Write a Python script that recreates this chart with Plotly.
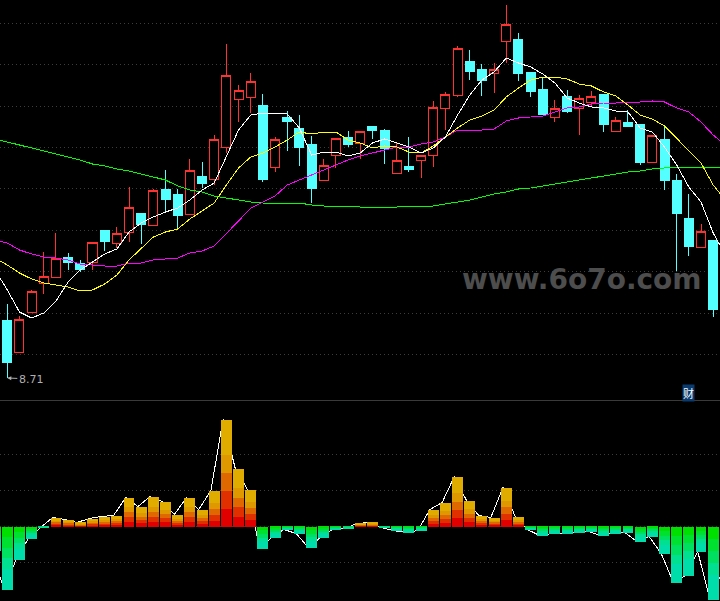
import plotly.graph_objects as go

# Candles: index 0..58
opens = [9.29,8.97,9.37,9.66,9.72,9.92,9.86,9.87,10.19,10.06,10.17,10.36,10.24,10.60,10.55,10.35,10.73,10.70,11.02,11.50,11.52,11.44,10.82,11.32,11.21,11.05,10.69,10.94,11.12,11.06,11.23,11.19,10.76,10.83,10.89,10.94,11.41,11.54,11.88,11.80,11.76,12.08,12.10,11.77,11.60,11.32,11.53,11.41,11.47,11.55,11.18,11.27,11.25,10.87,11.10,10.69,10.31,10.02,10.09]
closes = [8.87,9.30,9.58,9.73,9.91,9.87,9.80,10.07,10.08,10.16,10.42,10.25,10.59,10.50,10.34,10.79,10.66,11.10,11.74,11.59,11.68,10.70,11.10,11.28,11.02,10.61,10.84,11.11,11.05,11.18,11.19,11.01,10.89,10.80,10.94,11.42,11.55,12.01,11.78,11.69,11.80,12.25,11.76,11.58,11.35,11.41,11.38,11.51,11.53,11.25,11.29,11.23,10.87,11.14,10.69,10.36,10.03,10.18,9.40]
highs = [9.45,9.33,9.59,9.97,10.16,9.96,9.89,10.07,10.19,10.22,10.62,10.36,10.60,10.79,10.60,10.90,10.87,11.14,12.05,11.64,11.76,11.55,11.12,11.38,11.34,11.13,10.90,11.11,11.18,11.18,11.23,11.20,11.07,11.12,10.94,11.48,11.57,12.03,11.99,11.85,11.86,12.44,12.16,11.77,11.72,11.49,11.59,11.54,11.58,11.55,11.32,11.39,11.25,11.14,11.24,10.75,10.55,10.25,10.09]
lows = [8.71,8.97,9.37,9.55,9.72,9.79,9.77,9.79,9.98,10.01,10.07,10.05,10.24,10.37,10.21,10.35,10.61,10.64,10.96,11.27,11.36,10.67,10.77,10.98,10.83,10.46,10.68,10.81,11.02,10.90,11.10,10.85,10.76,10.77,10.71,10.82,11.19,11.52,11.69,11.53,11.56,11.86,11.68,11.52,11.34,11.27,11.36,11.14,11.43,11.17,11.17,11.23,10.84,10.87,10.59,9.78,9.93,10.02,9.32]

# Moving averages: index -1..59
ma_white = [9.79,9.59,9.37,9.31,9.36,9.48,9.67,9.79,9.87,9.95,10.00,10.17,10.26,10.32,10.37,10.41,10.49,10.59,10.66,10.92,11.19,11.34,11.36,11.36,11.35,11.21,10.94,10.97,10.97,10.93,10.96,11.06,11.10,11.06,11.02,10.96,11.01,11.12,11.34,11.54,11.69,11.77,11.91,11.86,11.82,11.75,11.66,11.51,11.46,11.42,11.41,11.38,11.37,11.21,11.17,11.02,10.84,10.62,10.47,10.16,9.94]
ma_yellow = [9.91,9.84,9.76,9.70,9.66,9.64,9.62,9.58,9.59,9.65,9.74,9.89,10.01,10.12,10.17,10.20,10.30,10.38,10.46,10.64,10.81,10.92,10.96,11.02,11.09,11.17,11.15,11.17,11.17,11.09,11.06,11.01,11.03,11.02,10.97,10.96,11.03,11.12,11.21,11.29,11.33,11.39,11.52,11.61,11.69,11.72,11.72,11.70,11.65,11.63,11.57,11.53,11.44,11.34,11.30,11.23,11.11,10.98,10.86,10.64,10.49]
ma_magenta = [10.09,10.06,9.99,9.95,9.92,9.91,9.89,9.85,9.84,9.83,9.83,9.86,9.86,9.89,9.90,9.91,9.96,9.98,10.03,10.15,10.28,10.41,10.47,10.53,10.64,10.69,10.74,10.79,10.84,10.89,10.93,10.96,10.99,11.02,11.02,11.05,11.07,11.12,11.19,11.19,11.19,11.20,11.28,11.31,11.32,11.33,11.37,11.41,11.42,11.45,11.46,11.46,11.47,11.47,11.48,11.47,11.41,11.37,11.27,11.14,11.04]
ma_green = [11.10,11.07,11.04,11.01,10.98,10.95,10.92,10.89,10.85,10.83,10.80,10.78,10.75,10.72,10.69,10.63,10.59,10.57,10.53,10.51,10.49,10.47,10.46,10.46,10.46,10.46,10.44,10.43,10.43,10.43,10.42,10.42,10.42,10.42,10.43,10.42,10.43,10.45,10.47,10.49,10.52,10.55,10.57,10.60,10.61,10.63,10.65,10.67,10.69,10.71,10.73,10.75,10.77,10.78,10.80,10.81,10.82,10.82,10.82,10.82,10.82]

# Lower oscillator: index -1..59
osc = [-24,-63,-33,-12,-1,9,7,4,8,10,11,29,20,30,25,12,29,17,36,107,58,37,-22,-11,-3,-7,-21,-11,-3,-2,3,4,-1,-4,-6,-4,17,24,50,26,11,9,39,10,-3,-9,-7,-7,-6,-5,-9,-7,-6,-15,-10,-27,-56,-49,-25,-73,-46]

band_fracs = [1/6, 1/6, 1/6, 1/6, 2/6]
pos_colors = ["#e00000", "#e03000", "#e06800", "#e09800", "#e0ac00"]
neg_colors = ["#00e000", "#00e030", "#00e060", "#00e090", "#00dcaa"]

price_grid = [12.26, 11.85, 11.43, 11.02, 10.61, 10.19, 9.78, 9.36, 8.95]
osc_grid = [72.5, 36.5, 0.5, -35.5]

candle_x = list(range(len(opens)))
ma_x = list(range(-1, len(ma_white) - 1))
osc_x = list(range(-1, len(osc) - 1))
osc_line_x = [i - 0.27 for i in osc_x]

W, H = 720, 601
X_RANGE = [-0.6, 58.56]
GRID = "#3c3c3c"

fig = go.Figure()
fig.add_trace(go.Candlestick(
    x=candle_x, open=opens, high=highs, low=lows, close=closes,
    increasing=dict(line=dict(color="#ff3232", width=1), fillcolor="#000000"),
    decreasing=dict(line=dict(color="#54ffff", width=1), fillcolor="#54ffff"),
    whiskerwidth=0, xaxis="x", yaxis="y", showlegend=False))
for vals, col in [(ma_green, "#00ff00"), (ma_magenta, "#ff00ff"), (ma_yellow, "#ffff00"), (ma_white, "#ffffff")]:
    fig.add_trace(go.Scatter(x=ma_x, y=vals, mode="lines", line=dict(color=col, width=1),
                             xaxis="x", yaxis="y", showlegend=False))

fig.add_trace(go.Scatter(x=osc_line_x, y=osc, mode="lines", line=dict(color="#ffffff", width=1),
                         xaxis="x", yaxis="y2", showlegend=False))
for frac, pc, nc in zip(band_fracs, pos_colors, neg_colors):
    fig.add_trace(go.Bar(x=osc_x, y=[v * frac for v in osc],
                         marker=dict(color=[pc if v > 0 else nc for v in osc], line=dict(width=0)),
                         width=0.9, xaxis="x", yaxis="y3", showlegend=False))

osc_range = [-74.5, 125.5]
fig.update_layout(
    width=W, height=H, margin=dict(l=0, r=0, t=0, b=0),
    paper_bgcolor="#000000", plot_bgcolor="#000000", showlegend=False,
    barmode="stack", bargap=0.1, boxgap=0.26, boxgroupgap=0,
    xaxis=dict(range=X_RANGE, visible=False, rangeslider=dict(visible=False), domain=[0, 1], anchor="y2"),
    yaxis=dict(domain=[1 - 400 / H, 1], range=[8.49, 12.49], tickvals=price_grid, showticklabels=False,
               showgrid=True, gridcolor=GRID, griddash="1px 3px", gridwidth=1, zeroline=False, showline=False, ticks="", anchor="x"),
    yaxis2=dict(domain=[0, 1 - 401 / H], range=osc_range, tickvals=osc_grid, showticklabels=False,
                showgrid=True, gridcolor=GRID, griddash="1px 3px", gridwidth=1, zeroline=False, showline=False, ticks="", anchor="x"),
    yaxis3=dict(overlaying="y2", range=osc_range, visible=False, anchor="x", showgrid=False, zeroline=False),
    shapes=[dict(type="line", xref="paper", yref="paper", x0=0, x1=1, y0=1 - 400.5 / H, y1=1 - 400.5 / H,
                 line=dict(color="#3a3a3a", width=1))],
    annotations=[
        dict(text="www.6o7o.com", xref="paper", yref="paper", x=581.5 / W, y=1 - 279 / H,
             xanchor="center", yanchor="middle",
             showarrow=False, font=dict(family="DejaVu Sans", size=28, color="#4d4d4d", weight="bold")),
        dict(text="8.71", xref="x", yref="y", x=0, y=8.71, ax=24, ay=1, axref="pixel", ayref="pixel",
             showarrow=True, arrowhead=2, arrowsize=0.8, arrowwidth=1, arrowcolor="#b0b0b0", standoff=0,
             font=dict(family="DejaVu Sans", size=11, color="#b0b0b0")),
        dict(text="财", xref="paper", yref="paper", x=688 / W, y=1 - 393 / H, xanchor="center", yanchor="middle",
             showarrow=False, bgcolor="#0a3a6e", borderpad=0, font=dict(family="Noto Sans CJK SC", size=11, color="#ffffff")),
    ],
)
post = """
document.documentElement.style.background='#000';
document.body.style.margin='0';
document.body.style.background='#000';
document.body.style.overflow='hidden';
function crisp(){
  document.querySelectorAll('.boxes path, .js-line').forEach(function(p){p.style.shapeRendering='crispEdges';});
}
crisp(); setTimeout(crisp, 50); setTimeout(crisp, 300);
"""
fig.write_html("out.html", post_script=post, config={"displayModeBar": False})
